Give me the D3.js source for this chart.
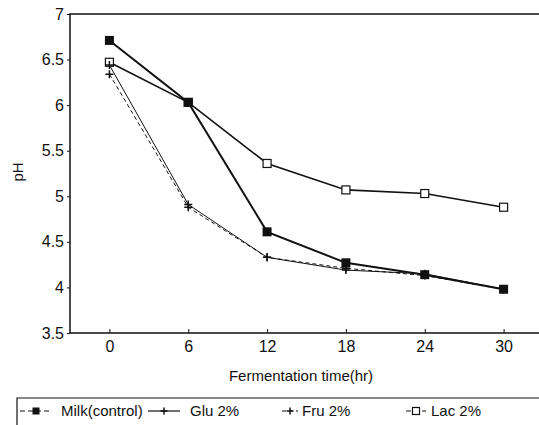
<!DOCTYPE html>
<html>
<head>
<meta charset="utf-8">
<script src="https://cdn.jsdelivr.net/npm/d3@7"></script>
<style>
  html, body { margin: 0; padding: 0; background: #fff; }
  svg { display: block; font-family: "Liberation Sans", Arial, sans-serif; }
</style>
</head>
<body>
<svg id="chart" width="539" height="425"></svg>
<script>
// fermentation time (hr) and pH readings per treatment
const hours = [0, 6, 12, 18, 24, 30];
const milk = [6.71, 6.03, 4.61, 4.27, 4.14, 3.98];
const glu  = [6.44, 4.91, 4.33, 4.19, 4.15, 3.98];
const fru  = [6.34, 4.88, 4.33, 4.21, 4.13, 3.98];
const lac  = [6.47, 6.03, 5.36, 5.07, 5.03, 4.88];
const yTicks = [3.5, 4, 4.5, 5, 5.5, 6, 6.5, 7];
const xTicks = [0, 6, 12, 18, 24, 30];

const series = [
  { name: "Milk(control)", values: milk, width: 2, dash: null, mark: "fill" },
  { name: "Glu 2%", values: glu, width: 1, dash: null, mark: "plus" },
  { name: "Fru 2%", values: fru, width: 1, dash: "4,3", mark: "plus" },
  { name: "Lac 2%", values: lac, width: 1.6, dash: null, mark: "open" }
];
// drawing order: Lac underneath, Milk on top
const drawOrder = [3, 2, 1, 0];

const svg = d3.select("#chart");
const x = d3.scaleLinear().domain([-3, 33]).range([70, 543]);
const y = d3.scaleLinear().domain([3.5, 7]).range([333, 14]);

// frame: left, bottom, top
svg.append("path")
  .attr("d", `M${x(33)},${y(7)}H${x(-3)}V${y(3.5)}H${x(33)}`)
  .attr("fill", "none").attr("stroke", "#111").attr("stroke-width", 1.5);

const gy = svg.append("g").attr("transform", `translate(${x(-3)},0)`)
  .call(d3.axisLeft(y).tickValues(yTicks).tickFormat(d3.format("")).tickSize(3).tickPadding(3));
const gx = svg.append("g").attr("transform", `translate(0,${y(3.5)})`)
  .call(d3.axisBottom(x).tickValues(xTicks).tickSize(-4).tickPadding(8));
[gy, gx].forEach(g => {
  g.select(".domain").remove();
  g.selectAll("line").attr("stroke", "#111");
  g.selectAll("text").attr("fill", "#111").style("font-size", "16px");
});

svg.append("text").attr("x", 301).attr("y", 381).attr("text-anchor", "middle")
  .style("font-size", "15px").attr("fill", "#111").text("Fermentation time(hr)");
svg.append("text").attr("transform", "translate(23,172) rotate(-90)").attr("text-anchor", "middle")
  .style("font-size", "15px").attr("fill", "#111").text("pH");

const line = d3.line().x((d, i) => x(hours[i])).y(d => y(d));

function drawMark(g, kind, cx, cy, s) {
  if (kind === "fill") {
    g.append("rect").attr("x", cx - s / 2).attr("y", cy - s / 2).attr("width", s).attr("height", s).attr("fill", "#111");
  } else if (kind === "open") {
    g.append("rect").attr("x", cx - s / 2).attr("y", cy - s / 2).attr("width", s).attr("height", s)
      .attr("fill", "#fff").attr("stroke", "#111").attr("stroke-width", 1.2);
  } else {
    g.append("path").attr("d", `M${cx - s / 2},${cy}H${cx + s / 2}M${cx},${cy - s / 2}V${cy + s / 2}`)
      .attr("stroke", "#111").attr("stroke-width", 1.5);
  }
}

drawOrder.forEach(k => {
  const s = series[k];
  svg.append("path").datum(s.values).attr("d", line)
    .attr("fill", "none").attr("stroke", "#111").attr("stroke-width", s.width)
    .attr("stroke-dasharray", s.dash);
  const g = svg.append("g");
  const size = s.mark === "plus" ? 8 : s.mark === "open" ? 8 : 9;
  s.values.forEach((v, i) => drawMark(g, s.mark, x(hours[i]), y(v), size));
});

// legend box
svg.append("path").attr("d", "M17,425V398H539")
  .attr("fill", "none").attr("stroke", "#111").attr("stroke-width", 1.2);
const legendPos = [
  { x0: 20, x1: 52, tx: 61 },
  { x0: 148, x1: 180, tx: 190 },
  { x0: 282, x1: 298, tx: 302 },
  { x0: 406, x1: 426, tx: 431 }
];
series.forEach((s, i) => {
  const p = legendPos[i];
  const ly = 411;
  const g = svg.append("g");
  g.append("line").attr("x1", p.x0).attr("x2", p.x1).attr("y1", ly).attr("y2", ly)
    .attr("stroke", "#111").attr("stroke-width", 1.2)
    .attr("stroke-dasharray", i === 0 || i === 3 ? "5,3" : s.dash);
  drawMark(g, s.mark, (p.x0 + p.x1) / 2, ly, 7);
  g.append("text").attr("x", p.tx).attr("y", ly + 5).style("font-size", "15px")
    .attr("fill", "#111").text(s.name);
});
</script>
</body>
</html>
